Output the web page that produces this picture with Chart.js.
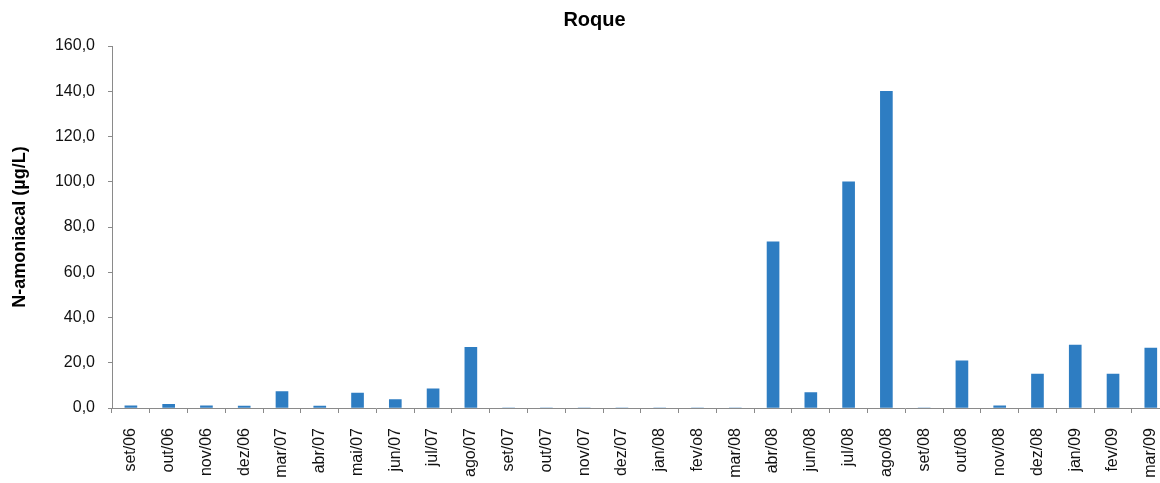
<!DOCTYPE html>
<html>
<head>
<meta charset="utf-8">
<script src="https://cdn.jsdelivr.net/npm/chart.js@4/dist/chart.umd.min.js"></script>
<style>
  html, body { margin: 0; padding: 0; background: #ffffff; overflow: hidden; }
  #wrap { width: 1185px; height: 483px; }
</style>
</head>
<body>
<div id="wrap"><canvas id="c" width="1185" height="483"></canvas></div>
<script>
// Sampling months (Roque station)
const categories = [
  'set/06', 'out/06', 'nov/06', 'dez/06', 'mar/07', 'abr/07', 'mai/07', 'jun/07',
  'jul/07', 'ago/07', 'set/07', 'out/07', 'nov/07', 'dez/07', 'jan/08', 'fev/o8',
  'mar/08', 'abr/08', 'jun/08', 'jul/08', 'ago/08', 'set/08', 'out/08', 'nov/08',
  'dez/08', 'jan/09', 'fev/09', 'mar/09'
];

// Ammoniacal nitrogen, µg/L
const nAmoniacal = [
  1.0, 1.6, 1.0, 0.8, 7.3, 0.8, 6.6, 3.7,
  8.5, 26.8, 0, 0, 0, 0, 0, 0,
  0, 73.5, 6.8, 100.0, 140.0, 0, 20.8, 1.0,
  15.0, 27.8, 15.0, 26.5
];

// Y axis range and step
const yMin = 0;
const yMax = 160;
const yStep = 20;

const axisGray = '#8a8a8a';
const fontFamily = '"Liberation Sans", Arial, sans-serif';

new Chart(document.getElementById('c'), {
  type: 'bar',
  data: {
    labels: categories,
    datasets: [{
      label: 'N-amoniacal',
      data: nAmoniacal,
      backgroundColor: '#2E7DC2',
      borderWidth: 0,
      barThickness: 12
    }]
  },
  options: {
    responsive: false,
    devicePixelRatio: 1,
    animation: false,
    layout: { padding: { left: 4, right: 0, top: 0, bottom: 0 } },
    plugins: {
      legend: { display: false },
      tooltip: { enabled: false },
      title: {
        display: true,
        text: 'Roque',
        color: '#000000',
        font: { family: fontFamily, size: 20, weight: 'bold' },
        padding: { top: 8, bottom: 14 }
      }
    },
    scales: {
      x: {
        afterFit: (scale) => { scale.height = 75; },
        grid: {
          display: true,
          drawOnChartArea: false,
          drawTicks: true,
          tickLength: 5,
          color: axisGray,
          offset: true
        },
        border: { display: true, color: axisGray, width: 1 },
        ticks: {
          autoSkip: false,
          minRotation: 90,
          maxRotation: 90,
          padding: 15,
          color: '#111111',
          font: { family: fontFamily, size: 16 }
        }
      },
      y: {
        min: yMin,
        max: yMax,
        afterFit: (scale) => { scale.width = 108; },
        grid: {
          display: true,
          drawOnChartArea: false,
          drawTicks: true,
          tickLength: 4,
          color: axisGray
        },
        border: { display: true, color: axisGray, width: 1 },
        ticks: {
          stepSize: yStep,
          padding: 13,
          color: '#111111',
          font: { family: fontFamily, size: 16 },
          callback: (v) => Number(v).toFixed(1).replace('.', ',')
        },
        title: {
          display: true,
          text: 'N-amoniacal (µg/L)',
          color: '#000000',
          font: { family: fontFamily, size: 18, weight: 'bold' },
          padding: { top: 5, bottom: 0 }
        }
      }
    }
  }
});
</script>
</body>
</html>
